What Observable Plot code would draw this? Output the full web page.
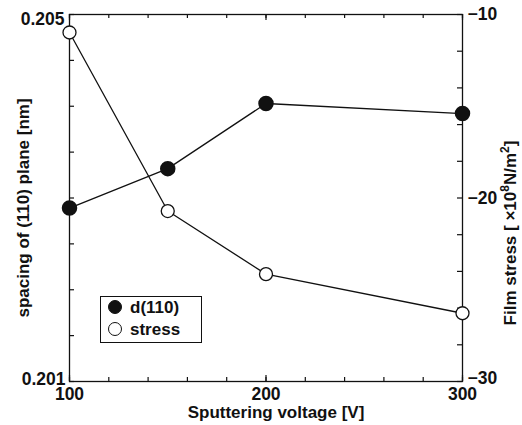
<!DOCTYPE html>
<html>
<head>
<meta charset="utf-8">
<script src="https://cdn.jsdelivr.net/npm/d3@7"></script>
<script src="https://cdn.jsdelivr.net/npm/@observablehq/plot@0.6"></script>
<style>
  html, body { margin: 0; padding: 0; background: #fff; }
  #chart { position: relative; width: 522px; height: 425px; font-family: "Liberation Sans", Arial, sans-serif; }
  .legend { position: absolute; left: 100px; top: 296px; width: 102px; height: 47px; border: 1.2px solid #111; box-sizing: border-box; background: #fff; font-weight: bold; font-size: 17px; color: #111; }
  .legend .row { position: absolute; left: 7px; height: 20px; line-height: 20px; white-space: nowrap; }
  .legend .dot { display: inline-block; width: 14px; height: 14px; border-radius: 50%; box-sizing: border-box; border: 1.4px solid #111; vertical-align: -1px; margin-right: 8px; }
</style>
</head>
<body>
<div id="chart"></div>
<script>
// Sputtering voltage (V)
const voltage = [100, 150, 200, 300];
// d(110) lattice spacing (nm), left axis
const spacing = [0.20289, 0.20332, 0.20403, 0.20392];
// film stress (x10^8 N/m^2), right axis
const stress = [-10.98, -20.71, -24.15, -26.28];

const xTicks = [100, 200, 300];
const spacingTicks = [0.201, 0.205];
const stressTicks = [-10, -20, -30];

// the stress axis is mapped linearly onto the spacing scale
const xMin = 100, xMax = 300;
const yMin = 0.201, yMax = 0.205, sMin = -30, sMax = -10;
const s2y = s => yMin + (s - sMin) / (sMax - sMin) * (yMax - yMin);
const y2s = y => sMin + (y - yMin) / (yMax - yMin) * (sMax - sMin);

const dData = voltage.map((v, i) => ({v, y: spacing[i]}));
const sData = voltage.map((v, i) => ({v, y: s2y(stress[i])}));

const minorX = d3.range(100, 301, 20);
const minorY = d3.range(0, 9).map(i => yMin + i * 0.0005);
const minorS = d3.range(-30, -9, 2).map(s2y);

const W = 522, H = 425, mL = 69, mR = 60, mT = 14, mB = 44;
const innerW = W - mL - mR, innerH = H - mT - mB;
// tick lengths (px) expressed in scale units
const ty = px => px / innerH * (yMax - yMin);
const tx = px => px / innerW * (xMax - xMin);
const fmtS = y => "−" + Math.abs(Math.round(y2s(y)));
const tickStyle = {stroke: "#111", strokeWidth: 1.2};

const plot = Plot.plot({
  width: W,
  height: H,
  marginLeft: mL,
  marginRight: mR,
  marginTop: mT,
  marginBottom: mB,
  style: {fontFamily: "'Liberation Sans', Arial, sans-serif", fontWeight: "bold", color: "#111", background: "#fff"},
  x: {domain: [xMin, xMax], axis: null},
  y: {domain: [yMin, yMax], axis: null},
  marks: [
    Plot.frame({stroke: "#111", strokeWidth: 1.3}),
    // inward tick marks on all four sides
    Plot.ruleX(minorX, {x: d => d, y1: yMin, y2: yMin + ty(4), ...tickStyle}),
    Plot.ruleX(minorX, {x: d => d, y1: yMax, y2: yMax - ty(4), ...tickStyle}),
    Plot.ruleX(xTicks, {x: d => d, y1: yMin, y2: yMin + ty(6), ...tickStyle}),
    Plot.ruleX(xTicks, {x: d => d, y1: yMax, y2: yMax - ty(6), ...tickStyle}),
    Plot.ruleY(minorY, {y: d => d, x1: xMin, x2: xMin + tx(5), ...tickStyle}),
    Plot.ruleY(minorS, {y: d => d, x1: xMax, x2: xMax - tx(5), ...tickStyle}),
    // tick labels
    Plot.axisX(xTicks, {anchor: "bottom", tickSize: 0, tickPadding: 6, fontSize: 17.5, label: null}),
    Plot.axisY([spacingTicks[1]], {anchor: "left", tickSize: 0, tickPadding: 5, dy: 5, fontSize: 17.5, tickFormat: d3.format(".3f"), label: null}),
    Plot.axisY([spacingTicks[0]], {anchor: "left", tickSize: 0, tickPadding: 4, dy: -2, fontSize: 17.5, tickFormat: d3.format(".3f"), label: null}),
    Plot.axisY(stressTicks.slice(0, 2).map(s2y), {anchor: "right", tickSize: 0, tickPadding: 5, fontSize: 17.5, tickFormat: fmtS, label: null}),
    Plot.axisY([s2y(stressTicks[2])], {anchor: "right", tickSize: 0, tickPadding: 5, dy: -3, fontSize: 17.5, tickFormat: fmtS, label: null}),
    // series
    Plot.line(sData, {x: "v", y: "y", stroke: "#111", strokeWidth: 1.3}),
    Plot.line(dData, {x: "v", y: "y", stroke: "#111", strokeWidth: 1.3}),
    Plot.dot(sData, {x: "v", y: "y", r: 6.5, fill: "#fff", stroke: "#111", strokeWidth: 1.3}),
    Plot.dot(dData, {x: "v", y: "y", r: 7, fill: "#111", stroke: "#111"})
  ]
});

const host = document.getElementById("chart");
host.appendChild(plot);

const svg = d3.select(plot);
const title = () => svg.append("text")
  .attr("text-anchor", "middle")
  .attr("fill", "#111")
  .style("font-size", "17px")
  .style("font-weight", "bold");

// axis titles
title().attr("x", 276).attr("y", 418).text("Sputtering voltage [V]");
title().attr("transform", "translate(29,208) rotate(-90)").text("spacing of (110) plane [nm]");

const rt = title().attr("transform", "translate(516,233) rotate(-90)");
rt.append("tspan").text("Film stress [ ×10");
rt.append("tspan").attr("dy", -7).style("font-size", "12px").text("8");
rt.append("tspan").attr("dy", 7).text("N/m");
rt.append("tspan").attr("dy", -7).style("font-size", "12px").text("2");
rt.append("tspan").attr("dy", 7).text("]");

// legend
const legend = document.createElement("div");
legend.className = "legend";
legend.innerHTML =
  '<div class="row" style="top:1px"><span class="dot" style="background:#111"></span>d(110)</div>' +
  '<div class="row" style="top:23px"><span class="dot" style="background:#fff"></span>stress</div>';
host.appendChild(legend);
</script>
</body>
</html>
